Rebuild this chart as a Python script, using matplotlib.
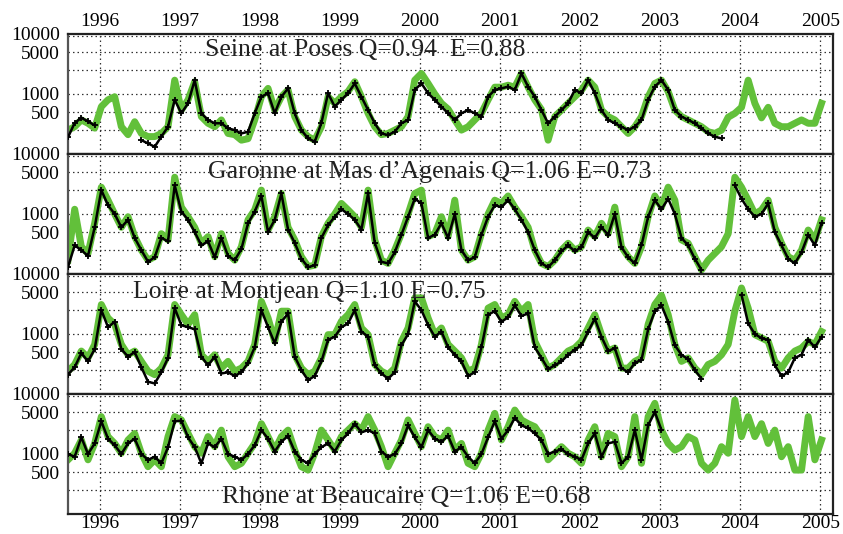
import numpy as np
import matplotlib
matplotlib.use("Agg")
import matplotlib.pyplot as plt

nan = np.nan
start_year = 1995.6
step = 1.0 / 12.0

seine_sim = [250, 285, 370, 325, 270, 615, 800, 900, 285, 210, 345, 220, 195, 195, 220, 285,
             1700, 540, 800, 1600, 420, 325, 285, 370, 220, 210, 170, 180, 370, 900, 1240, 540,
             900, 1170, 420, 250, 195, 170, 285, 900, 700, 900, 1100, 1600, 900, 476, 285, 210,
             220, 250, 285, 420, 1700, 2200, 1500, 1000, 700, 560, 370, 250, 285, 370, 480, 800,
             1300, 1300, 1400, 1300, 2200, 1300, 800, 550, 170, 420, 540, 700, 900, 1150, 1700, 1300,
             540, 420, 370, 285, 220, 285, 420, 900, 1500, 1700, 1100, 540, 420, 370, 325, 285,
             235, 220, 250, 410, 476, 600, 1700, 700, 400, 600, 325, 285, 285, 325, 370, 325,
             325, 700]
seine_obs = [190, 330, 400, 350, 300, nan, nan, nan, nan, nan, nan, 170, 150, 132, 195, 285,
             800, 476, 700, 1700, 476, 370, 325, 325, 268, 250, 220, 235, 476, 900, 1030, 476,
             900, 1240, 476, 250, 182, 160, 330, 1030, 614, 800, 1030, 1500, 900, 540, 325, 220,
             207, 235, 325, 370, 1170, 1500, 1030, 800, 614, 476, 370, 476, 540, 476, 420, 900,
             1170, 1240, 1325, 1170, 2200, 1325, 900, 540, 325, 420, 540, 700, 1170, 1030, 1700, 1030,
             540, 370, 325, 285, 250, 285, 370, 800, 1325, 1700, 1170, 540, 420, 370, 325, 268,
             220, 194, 182, nan, nan, nan, nan, nan, nan, nan, nan, nan, nan, nan, nan, nan,
             nan, nan]

garonne_sim = [170, 1200, 285, 220, 700, 2800, 1700, 1000, 600, 900, 420, 250, 170, 194, 470, 370,
               4100, 1300, 900, 600, 325, 420, 194, 470, 220, 170, 285, 800, 1170, 2500, 540, 900,
               2200, 600, 370, 194, 133, 140, 420, 700, 1000, 1500, 1170, 900, 600, 2500, 370, 170,
               150, 250, 470, 1000, 2200, 2500, 420, 470, 900, 420, 1700, 250, 170, 194, 470, 1000,
               1700, 1500, 2000, 1300, 900, 600, 250, 150, 133, 170, 250, 325, 250, 285, 540, 420,
               700, 470, 1300, 285, 194, 150, 285, 900, 2000, 1300, 2800, 1700, 370, 325, 194, 117,
               170, 220, 285, 470, 4100, 2800, 1700, 1000, 1170, 1700, 600, 325, 194, 170, 250, 540,
               370, 800]
garonne_obs = [130, 300, 250, 200, 600, 2500, 1400, 1000, 600, 800, 400, 250, 160, 190, 400, 350,
               3000, 1100, 800, 500, 300, 350, 190, 400, 200, 170, 260, 700, 1100, 2000, 500, 800,
               2200, 550, 330, 180, 130, 140, 400, 650, 900, 1200, 1000, 800, 550, 2200, 330, 160,
               150, 230, 450, 900, 1800, 1500, 400, 450, 700, 400, 1000, 250, 170, 190, 450, 900,
               1400, 1300, 1700, 1200, 800, 500, 250, 150, 130, 170, 240, 300, 240, 280, 500, 400,
               600, 450, 1000, 280, 190, 150, 300, 900, 1700, 1200, 1800, 1000, 400, 300, 180, 117,
               nan, nan, nan, nan, 3000, 1800, 1200, 900, 1000, 1500, 500, 300, 180, 150, 230, 450,
               300, 700]

loire_sim = [240, 310, 520, 400, 670, 3100, 1850, 1450, 670, 450, 520, 350, 240, 210, 270, 450,
             3100, 2100, 1450, 2100, 450, 350, 450, 270, 350, 240, 270, 350, 670, 3500, 1850, 755,
             2400, 2400, 450, 270, 210, 240, 400, 975, 975, 1630, 2100, 3100, 1260, 975, 310, 240,
             210, 270, 755, 1260, 4000, 4000, 1850, 975, 1260, 670, 520, 400, 240, 270, 670, 2700,
             3100, 1850, 2100, 3500, 2400, 3100, 755, 450, 270, 310, 400, 520, 585, 755, 1260, 2100,
             975, 520, 585, 270, 270, 350, 400, 1450, 3100, 4400, 2100, 670, 350, 400, 270, 210,
             310, 350, 450, 670, 2400, 5850, 2700, 975, 860, 755, 350, 270, 400, 520, 585, 755,
             670, 1100]
loire_obs = [210, 280, 480, 350, 560, 2500, 1300, 1600, 560, 420, 500, 280, 160, 150, 230, 400,
             2700, 1400, 1300, 1200, 420, 300, 420, 220, 230, 200, 230, 330, 600, 2500, 1300, 700,
             1600, 2200, 420, 250, 170, 200, 350, 800, 900, 1300, 1500, 2500, 1100, 900, 300, 220,
             180, 230, 650, 1000, 3500, 2500, 1400, 900, 1100, 600, 450, 350, 200, 230, 600, 2100,
             2400, 1600, 1900, 3000, 2000, 2200, 600, 400, 260, 300, 350, 450, 550, 650, 1100, 1800,
             900, 520, 580, 270, 230, 330, 370, 1200, 2400, 3000, 1600, 650, 450, 380, 250, 180,
             nan, nan, nan, nan, nan, 4500, 1500, 1000, 850, 800, 300, 200, 230, 400, 450, 800,
             600, 900]

rhone_sim = [800, 1030, 1710, 800, 1500, 4200, 1950, 1500, 1030, 1710, 2200, 1030, 614, 800, 614, 1950,
             4200, 3700, 2200, 1325, 1030, 1950, 1325, 2500, 900, 614, 700, 1030, 1500, 3200, 1950, 1160,
             1950, 2500, 1160, 614, 540, 1030, 2500, 1710, 1160, 1950, 2500, 3200, 2500, 4200, 2500, 1325,
             614, 1030, 1710, 3700, 2200, 1325, 2850, 1950, 1710, 2500, 1160, 1500, 700, 614, 1030, 2500,
             4760, 1710, 2850, 5400, 3700, 3200, 2850, 1950, 800, 1030, 1325, 1030, 900, 700, 1710, 2850,
             900, 2200, 1950, 614, 900, 4200, 700, 4200, 7000, 2500, 1500, 1160, 1325, 1950, 1710, 700,
             540, 700, 1325, 1030, 7940, 1950, 4200, 1950, 3200, 1500, 2500, 900, 1325, 540, 540, 4200,
             800, 1710]
rhone_obs = [1000, 900, 1900, 1000, 1500, 3500, 1800, 1400, 1000, 1500, 1800, 1000, 800, 900, 700, 1300,
             3500, 3600, 1900, 1300, 700, 1500, 1300, 1800, 1000, 900, 800, 1000, 1400, 2500, 1800, 1100,
             1600, 2000, 1100, 800, 700, 1000, 1300, 1500, 1100, 1700, 2200, 3200, 2300, 2500, 2200, 1100,
             900, 1000, 1500, 3000, 1900, 1300, 2500, 1800, 1600, 2000, 1100, 1300, 900, 700, 1000, 1900,
             3500, 1800, 2500, 4000, 3000, 2700, 2200, 1700, 1000, 1100, 1200, 1000, 900, 800, 1500, 2200,
             900, 1500, 1600, 700, 900, 2500, 800, 3000, 5000, 2500, nan, nan, nan, nan, nan, nan,
             nan, nan, nan, nan, nan, nan, nan, nan, nan, nan, nan, nan, nan, nan, nan, nan,
             nan, nan]

titles = ["Seine at Poses Q=0.94  E=0.88",
          "Garonne at Mas d\u2019Agenais Q=1.06 E=0.73",
          "Loire at Montjean Q=1.10 E=0.75",
          "Rhone at Beaucaire Q=1.06 E=0.68"]
title_pos = [(0.388, 0.87), (0.473, 0.85), (0.315, 0.85), (0.442, 0.14)]
years = list(range(1996, 2006))
ytick_vals = [10000, 5000, 1000, 500]
ygrid_vals = [5000, 2500, 1000, 500, 250]

sims = [seine_sim, garonne_sim, loire_sim, rhone_sim]
obss = [seine_obs, garonne_obs, loire_obs, rhone_obs]

plt.rcParams['font.family'] = ['Liberation Serif', 'DejaVu Serif']

fig = plt.figure(figsize=(8.43, 5.34), dpi=100)
L, R = 68 / 843, 833 / 843
T, B = 1 - 34 / 534, 1 - 514 / 534
h = (T - B) / 4
green = '#62c03a'
gridkw = dict(color='#333333', lw=0.9, ls=(0, (1.2, 2.4)), zorder=1)

for i in range(4):
    ax = fig.add_axes([L, T - (i + 1) * h, R - L, h])
    sim = np.array(sims[i], dtype=float)
    obs = np.array(obss[i], dtype=float)
    t = start_year + np.arange(len(sim)) * step
    ax.plot(t, sim, color=green, lw=5.0, solid_joinstyle='round', zorder=2)
    ax.plot(t, obs, color='black', lw=1.8, marker='+', ms=5, mew=1.3, zorder=3)
    ax.set_yscale('log')
    ax.set_ylim(100, 10000)
    ax.set_xlim(1995.6, 2005.16)
    ax.set_yticks(ytick_vals)
    ax.set_yticklabels([str(v) for v in ytick_vals])
    ax.yaxis.set_minor_locator(matplotlib.ticker.NullLocator())
    ax.set_xticks(years)
    ax.set_xticklabels([str(y) for y in years])
    for gy in ygrid_vals:
        ax.axhline(gy, **gridkw)
    ax.axhline(9300, **gridkw)
    for yv in years:
        ax.axvline(yv, **gridkw)
    ax.tick_params(axis='both', length=0, labelsize=14, pad=1)
    ax.tick_params(axis='y', pad=6)
    if i == 0:
        ax.tick_params(axis='x', labeltop=True, labelbottom=False, pad=3)
    elif i == 3:
        ax.tick_params(axis='x', labeltop=False, labelbottom=True, pad=0.5)
    else:
        ax.tick_params(axis='x', labeltop=False, labelbottom=False)
    for s in ax.spines.values():
        s.set_linewidth(1.6)
        s.set_color('#222222')
    ax.spines['left'].set_color('#555555')
    ax.text(title_pos[i][0], title_pos[i][1], titles[i], transform=ax.transAxes,
            ha='center', va='center', fontsize=18.5, color='#222222', zorder=4)

fig.savefig('out.png', dpi=100)
